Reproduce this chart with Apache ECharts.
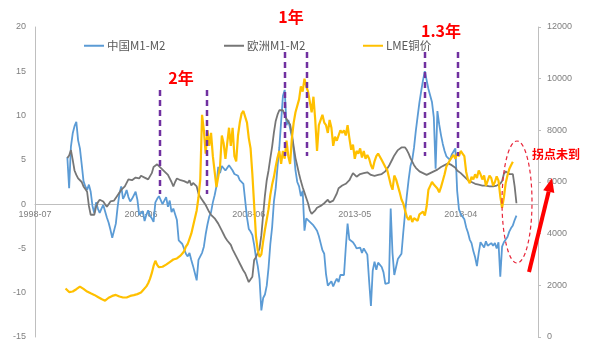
<!DOCTYPE html>
<html><head><meta charset="utf-8">
<script src="https://cdn.jsdelivr.net/npm/echarts@6/dist/echarts.min.js"></script>
<style>html,body{margin:0;padding:0;background:#fff}#c{width:590px;height:345px}</style>
</head><body><div id="c"></div>
<script>
// ---- data ----
const startMonth = '1998-07';
const monthCount = 281;
const tickLabels = ['1998-07', '2003-06', '2008-06', '2013-05', '2018-04'];
const seriesNames = ['中国M1-M2', '欧洲M1-M2', 'LME铜价'];

const chinaStart = '2000-01';
const chinaM1M2 = [
  5.3, 1.8, 6.5, 8.0, 8.8, 9.3, 7.2, 6.3, 4.5, 2.6,
  2.0, 1.6, 2.2, 1.4, -0.2, -1.0, 0.2, -0.5, -1.0, -0.5,
  -0.1, -0.8, -1.5, -2.1, -2.9, -3.8, -3.6, -2.2, -0.3, 1.2,
  2.0, 0.6, 1.0, 1.6, 0.8, 0.3, 0.6, 1.0, 1.4, 0.5,
  -1.2, -1.2, -0.8, -1.9, -1.2, -0.7, -1.3, -1.6, -2.0, 0.2,
  0.6, 0.9, 1.0, 0.0, -0.2, 0.8, -0.3, 0.4, -0.9, -0.5,
  -0.6, -1.8, -4.1, -4.3, -4.5, -4.7, -5.6, -5.9, -5.5, -6.3,
  -7.0, -7.1, -8.6, -6.3, -6.2, -5.5, -4.8, -3.4, -2.3, -1.4,
  -0.9, 0.2, 1.0, 2.0, 4.2, 3.5, 4.3, 4.2, 3.8, 4.0,
  4.4, 4.6, 3.8, 3.4, 3.6, 3.2, 2.7, 2.6, 2.3, 2.3,
  -1.5, -2.8, -3.1, -3.5, -4.6, -6.0, -7.0, -8.5, -12.0, -10.6,
  -10.2, -9.2, -7.2, -4.5, -2.6, 0.3, 1.8, 4.2, 6.4, 9.3,
  12.2, 12.9, 8.9, 9.5, 9.4, 7.6, 6.1, 3.8, 2.5, 2.0,
  0.9, 1.5, -3.0, -1.6, -1.8, -2.0, -2.2, -2.4, -2.7, -3.0,
  -3.6, -4.4, -5.2, -5.6, -7.9, -9.2, -9.0, -8.7, -9.3, -8.8,
  -8.4, -8.8, -8.0, -8.2, -8.0, -4.9, -2.2, -4.0, -3.8, -4.3,
  -4.6, -5.0, -5.0, -4.9, -5.5, -5.0, -4.9, -5.7, -8.7, -11.5,
  -7.5, -6.5, -7.4, -6.6, -6.5, -7.1, -7.7, -9.0, -9.2, -8.9,
  -0.5, -5.5, -8.0, -8.0, -6.2, -6.3, -5.6, -3.2, -1.0, 1.0,
  2.8, 4.3, 5.0, 6.4, 8.3, 9.9, 11.5, 12.8, 14.0, 15.0,
  14.0, 13.0, 12.8, 11.5, 9.8, 4.0, 10.5, 9.0, 7.8, 6.8,
  6.0, 5.4, 5.2, 5.0, 5.6, 5.4, 6.3, 1.5, -0.6, -1.1,
  -1.3, -1.7, -2.6, -3.2, -4.0, -4.4, -5.3, -6.0, -7.0, -5.5,
  -4.3, -4.3, -4.9, -4.2, -4.7, -4.9, -4.4, -4.7, -4.4, -5.0,
  -4.3, -8.2, -4.8, -4.3, -4.2, -3.7, -3.1, -2.7, -2.4, -1.8, -1.3
];

const euroStart = '2000-01';
const euroM1M2 = [
  5.2, 5.5, 6.1, 5.0, 3.8, 3.3, 2.9, 2.7, 2.5, 2.0,
  1.7, 1.4, -0.2, -1.2, -1.4, -1.2, -0.3, 0.2, 0.5, 0.4,
  0.3, 0.0, -0.3, 0.0, 0.3, 0.4, 0.4, 0.5, 1.0, 1.3,
  1.6, 1.8, 2.0, 2.4, 2.8, 2.9, 2.7, 2.6, 3.0, 3.1,
  2.9, 3.2, 3.3, 3.0, 3.1, 2.8, 2.7, 3.5, 4.2, 4.4,
  4.5, 4.3, 4.1, 3.9, 3.7, 3.5, 3.3, 3.1, 2.5, 2.0,
  2.5, 2.9, 2.8, 2.7, 2.7, 2.6, 2.4, 2.4, 2.7, 2.1,
  2.4, 2.2, 2.0, 1.2, 0.8, 0.5, 0.2, -0.1, -0.5, -0.9,
  -1.2, -1.4, -1.6, -1.8, -2.2, -2.6, -3.0, -3.4, -3.8, -4.1,
  -4.3, -4.6, -5.1, -5.5, -5.9, -6.3, -6.7, -7.1, -7.5, -7.8,
  -8.0, -8.8, -9.0, -8.2, -6.3, -6.0, -6.0, -5.0, -3.5, -1.2,
  1.0, 2.7, 3.8, 5.2, 6.5, 8.1, 9.4, 10.1, 10.6, 10.8,
  10.6, 10.1, 9.6, 9.3, 9.0, 7.9, 6.5, 5.2, 4.3, 3.4,
  2.6, 1.9, 1.3, 0.7, 0.1, -0.7, -1.1, -0.9, -0.7, -0.4,
  -0.3, -0.2, 0.0, 0.1, 0.3, 0.5, 0.2, 0.1, 0.4, 0.8,
  1.2, 1.8, 2.0, 2.1, 2.2, 2.3, 2.5, 2.7, 3.1, 3.5,
  3.3, 3.1, 3.3, 3.4, 3.3, 3.5, 3.6, 3.6, 3.4, 3.3,
  3.1, 3.2, 3.2, 3.3, 3.3, 3.4, 3.5, 3.7, 3.9, 4.3,
  4.7, 5.1, 5.5, 5.8, 6.1, 6.3, 6.4, 6.5, 6.4, 6.1,
  5.7, 5.2, 4.8, 4.4, 4.1, 3.9, 3.7, 3.6, 3.5, 3.4,
  3.3, 3.4, 3.5, 3.6, 3.7, 3.8, 3.9, 4.1, 4.2, 4.3,
  4.4, 4.5, 4.6, 4.5, 4.4, 4.3, 4.1, 3.8, 3.6, 3.5,
  3.3, 3.1, 2.9, 2.7, 2.6, 2.5, 2.4, 2.3, 2.3, 2.2,
  2.1, 2.1, 2.0, 2.1, 2.0, 2.0, 1.9, 2.0, 2.0, 2.1,
  2.3, 2.3, 2.6, 3.4, 3.7, 3.6, 3.4, 3.3, 3.4, 2.0, 0.1
];

const lmeStart = '1999-12';
const lmeCopper = [
  1880, 1820, 1740, 1700, 1760, 1810, 1850, 1900, 1950, 1900,
  1860, 1820, 1760, 1720, 1690, 1660, 1630, 1600, 1550, 1500,
  1470, 1430, 1405, 1450, 1520, 1560, 1590, 1620, 1630, 1600,
  1570, 1560, 1530, 1500, 1530, 1560, 1590, 1600, 1620, 1630,
  1660, 1690, 1720, 1800, 1870, 1960, 2080, 2250, 2470, 2750,
  2950, 2790, 2700, 2680, 2720, 2760, 2800, 2850, 2900, 2950,
  3000, 3020, 3040, 3060, 3150, 3230, 3320, 3500, 3600, 3800,
  4000, 4300, 4600, 4900, 5400, 6100, 8600, 8000, 7100, 8000,
  7400, 7900, 7000, 6400, 5800, 6200, 6600, 7800, 7500, 6900,
  7500, 8100, 7400, 8100, 7000, 6800, 7800, 8300, 8650, 8750,
  8700, 8300, 7700, 7300, 6300, 5100, 3900, 3350, 3100, 3200,
  3700, 4150, 4550, 4950, 5500, 5900, 6200, 6600, 6950, 7200,
  6700, 7200, 6900, 7600, 7000, 6700, 7700, 8300, 8700, 8700,
  9200, 9700, 9500, 10000, 9700, 9500, 9100, 8700, 9300, 8400,
  7200, 8200, 8200, 8600, 8300, 8200, 7900, 8400, 8100, 7400,
  7750, 7600, 7800, 8000, 7900, 8000, 7800, 8200, 7700, 7250,
  7450, 6900, 7200, 7100, 7300, 6950, 7200, 6900, 7050, 6900,
  6650, 6500, 6800, 7000, 7100, 6980, 6850, 6800, 6580, 6480,
  6500, 5900, 5700, 6250, 6100, 5850, 5600, 5320, 5170, 4900,
  4650, 4530, 4700, 4450, 4600, 4650, 4500, 4750, 4750, 4850,
  4700, 5050, 5700, 5850, 6000, 5900, 5950, 5750, 5600, 5800,
  6050, 6300, 6600, 6720, 6850, 6950, 7050, 6900, 7100, 7000,
  7200, 7100, 7000, 6400, 6100, 5950, 6200, 6100, 6300, 6150,
  6450, 6300, 6100, 6250, 5850, 6050, 6250, 6150, 5850, 6000,
  6220, 6050, 5450, 5000, 5400, 5950, 6250, 6500, 6650, 6780
];

// ---- helpers ----
function monthList(start, n) {
  let [y, m] = start.split('-').map(Number);
  const out = [];
  for (let k = 0; k < n; k++) {
    out.push(y + '-' + String(m).padStart(2, '0'));
    m++; if (m > 12) { m = 1; y++; }
  }
  return out;
}
const months = monthList(startMonth, monthCount);
function align(start, arr) {
  const full = new Array(months.length).fill(null);
  const off = months.indexOf(start);
  arr.forEach((v, j) => { full[off + j] = v; });
  return full;
}

const axisGray = '#bfbfbf';
const labelGray = '#7f7f7f';
const cjk = '"Noto Sans CJK SC", "Noto Sans", sans-serif';
const numFont = '"Liberation Sans", sans-serif';

const chart = echarts.init(document.getElementById('c'), null, { renderer: 'canvas' });

function legendFor(name, left) {
  return {
    data: [name], left: left, top: 40, padding: 0, icon: 'rect', itemWidth: 20, itemHeight: 2,
    itemGap: 4, textStyle: { color: '#595959', fontSize: 11.5, fontFamily: cjk, padding: [0, 0, 0, -2] }
  };
}

function redText(t, x, y, size) {
  return {
    type: 'text', x: x, y: y, z: 100,
    style: { text: t, fill: '#ff0000', font: 'bold ' + size + 'px ' + cjk, textAlign: 'center', textVerticalAlign: 'middle' }
  };
}
function purpleDash(x, y1, y2) {
  return {
    type: 'line', z: 100,
    shape: { x1: x, y1: y1, x2: x, y2: y2 },
    style: { stroke: '#7030a0', lineWidth: 2.5, lineDash: [6, 4] }
  };
}

chart.setOption({
  animation: false,
  backgroundColor: '#fff',
  grid: { left: 35, right: 52, top: 27, bottom: 8, containLabel: false, outerBoundsMode: 'none' },
  legend: [legendFor(seriesNames[0], 84), legendFor(seriesNames[1], 224), legendFor(seriesNames[2], 363)],
  xAxis: {
    type: 'category', data: months, boundaryGap: false,
    axisLine: { onZero: true, onZeroAxisIndex: 0, lineStyle: { color: axisGray, width: 1 } },
    axisTick: { show: false },
    splitLine: { show: false },
    axisLabel: {
      interval: (idx, val) => tickLabels.indexOf(val) >= 0,
      color: labelGray, fontSize: 9, margin: -127, fontFamily: numFont
    }
  },
  yAxis: [
    {
      type: 'value', min: -15, max: 20, interval: 5, position: 'left',
      axisLine: { show: true, onZero: false, lineStyle: { color: axisGray } },
      axisTick: { show: false }, splitLine: { show: false },
      axisLabel: { color: labelGray, fontSize: 9, margin: 9, fontFamily: numFont }
    },
    {
      type: 'value', min: 0, max: 12000, interval: 2000, position: 'right',
      axisLine: { show: true, onZero: false, lineStyle: { color: axisGray } },
      axisTick: { show: true, length: 3, lineStyle: { color: axisGray } }, splitLine: { show: false },
      axisLabel: { color: labelGray, fontSize: 9, margin: 9, fontFamily: numFont, formatter: v => String(v) }
    }
  ],
  series: [
    {
      name: seriesNames[0], type: 'line', yAxisIndex: 0, data: align(chinaStart, chinaM1M2),
      showSymbol: false, symbol: 'none', connectNulls: false,
      lineStyle: { color: '#5b9bd5', width: 1.8 }, itemStyle: { color: '#5b9bd5' }
    },
    {
      name: seriesNames[1], type: 'line', yAxisIndex: 0, data: align(euroStart, euroM1M2),
      showSymbol: false, symbol: 'none', connectNulls: false,
      lineStyle: { color: '#767676', width: 1.8 }, itemStyle: { color: '#767676' }
    },
    {
      name: seriesNames[2], type: 'line', yAxisIndex: 1, data: align(lmeStart, lmeCopper),
      showSymbol: false, symbol: 'none', connectNulls: false,
      lineStyle: { color: '#ffc000', width: 2.2 }, itemStyle: { color: '#ffc000' }
    }
  ],
  graphic: [
    redText('1年', 291, 17, 16),
    redText('2年', 181, 78, 16),
    redText('1.3年', 441, 31, 16),
    redText('拐点未到', 556, 154, 12),
    purpleDash(160, 90, 194),
    purpleDash(207, 90, 194),
    purpleDash(285, 52, 156),
    purpleDash(307, 52, 156),
    purpleDash(425, 52, 156),
    purpleDash(458, 52, 156),
    {
      type: 'ellipse', z: 100,
      shape: { cx: 517, cy: 202, rx: 15, ry: 61 },
      style: { fill: 'none', stroke: '#e8263a', lineWidth: 1.2, lineDash: [4, 3] }
    },
    {
      type: 'line', z: 100,
      shape: { x1: 529, y1: 272, x2: 548.7, y2: 191.6 },
      style: { stroke: '#ff0000', lineWidth: 4 }
    },
    {
      type: 'polygon', z: 100,
      shape: { points: [[552, 178], [554.3, 193], [543.2, 190.2]] },
      style: { fill: '#ff0000' }
    }
  ]
});
</script>
</body></html>
